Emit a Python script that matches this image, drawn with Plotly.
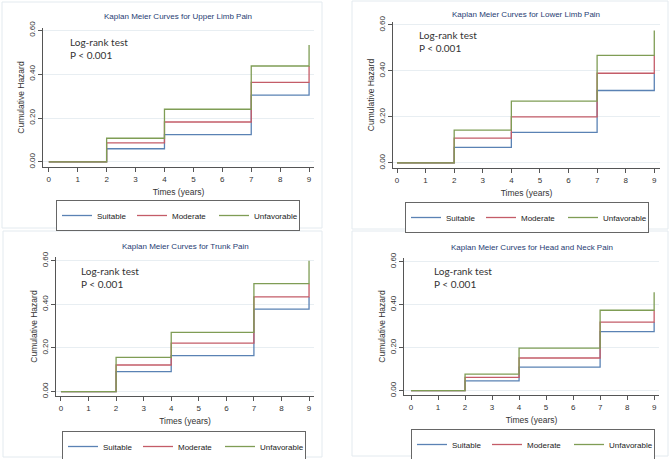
import plotly.graph_objects as go

W, H = 669, 459

times = [0, 2, 4, 7, 9]
groups = ["Suitable", "Moderate", "Unfavorable"]
colors = ["#5a82b4", "#c45c68", "#7f9d55"]

titles = [
    "Kaplan Meier Curves for Upper Limb Pain",
    "Kaplan Meier Curves for Lower Limb Pain",
    "Kaplan Meier Curves for Trunk Pain",
    "Kaplan Meier Curves for Head and Neck Pain",
]

# cumulative hazard at times 0, 2, 4, 7, 9 (step function)
upper_suitable = [0.0, 0.060, 0.124, 0.304, 0.362]
upper_moderate = [0.0, 0.087, 0.182, 0.362, 0.437]
upper_unfavorable = [0.0, 0.108, 0.240, 0.437, 0.533]

lower_suitable = [0.0, 0.068, 0.133, 0.315, 0.390]
lower_moderate = [0.0, 0.108, 0.200, 0.390, 0.468]
lower_unfavorable = [0.0, 0.143, 0.269, 0.468, 0.576]

trunk_suitable = [0.0, 0.092, 0.165, 0.378, 0.434]
trunk_moderate = [0.0, 0.122, 0.222, 0.434, 0.495]
trunk_unfavorable = [0.0, 0.157, 0.272, 0.495, 0.600]

head_suitable = [0.0, 0.046, 0.110, 0.275, 0.319]
head_moderate = [0.0, 0.062, 0.152, 0.319, 0.374]
head_unfavorable = [0.0, 0.077, 0.198, 0.374, 0.458]

panels_data = [
    [upper_suitable, upper_moderate, upper_unfavorable],
    [lower_suitable, lower_moderate, lower_unfavorable],
    [trunk_suitable, trunk_moderate, trunk_unfavorable],
    [head_suitable, head_moderate, head_unfavorable],
]

x_ticks = list(range(10))
y_ticks = [0.0, 0.2, 0.4, 0.6]
legend_widths = [30, 37, 40]

# pixel geometry of each panel (layout only)
geo = [
    dict(l=43, r=314, t=28, b=167, xr=[-0.2, 9.17], yr=[-0.023, 0.61],
         box=(2, 322, 2, 228), leg=(56, 200), ann=(68, 42), title=(178, 17)),
    dict(l=393, r=660, t=22, b=168, xr=[-0.14, 9.2], yr=[-0.022, 0.613],
         box=(352, 668, 1, 229), leg=(405, 202), ann=(417, 35), title=(526, 15)),
    dict(l=56, r=314, t=257, b=396, xr=[-0.18, 9.18], yr=[-0.02, 0.617],
         box=(3, 322, 231, 457), leg=(62, 431), ann=(79, 271), title=(185, 246)),
    dict(l=404, r=659, t=258, b=395, xr=[-0.26, 9.18], yr=[-0.02, 0.617],
         box=(352, 668, 231, 456), leg=(411, 429), ann=(432, 271), title=(532, 247)),
]


def fx(px):
    return px / W


def fy(py):
    return 1 - py / H


fig = go.Figure()
layout = dict(
    width=W, height=H,
    margin=dict(l=0, r=0, t=0, b=0, autoexpand=False),
    paper_bgcolor="white", plot_bgcolor="white",
    font=dict(family="Liberation Sans, Arial", color="#333333", size=8),
    showlegend=True,
    shapes=[], annotations=[],
)

for i, (g, data) in enumerate(zip(geo, panels_data)):
    k = "" if i == 0 else str(i + 1)
    xa, ya = "x" + k, "y" + k
    leg = "legend" + k
    for name, col, vals, lw in zip(groups, colors, data, legend_widths):
        fig.add_trace(go.Scatter(
            x=times, y=vals, mode="lines", name=name,
            line=dict(color=col, width=1.3, shape="hv"),
            xaxis=xa, yaxis=ya, legend=leg, legendwidth=lw,
        ))
    layout["xaxis" + k] = dict(
        domain=[fx(g["l"]), fx(g["r"])], range=g["xr"], anchor=ya,
        tickvals=x_ticks, ticks="outside", ticklen=4, tickcolor="#555555",
        showline=True, linecolor="#555555", linewidth=1, showgrid=False,
        zeroline=False, tickfont=dict(size=8),
        title=dict(text="Times (years)", font=dict(size=8.5), standoff=6),
    )
    layout["yaxis" + k] = dict(
        domain=[fy(g["b"]), fy(g["t"])], range=g["yr"], anchor=xa,
        tickvals=y_ticks, tickformat=".2f", tickangle=-90,
        ticks="outside", ticklen=4, tickcolor="#555555",
        showline=True, linecolor="#555555", linewidth=1,
        showgrid=True, gridcolor="#e8eef2", gridwidth=1, zeroline=False,
        tickfont=dict(size=8),
        title=dict(text="Cumulative Hazard", font=dict(size=8.5), standoff=1),
    )
    layout[leg] = dict(
        orientation="h", x=fx(g["leg"][0]), y=fy(g["leg"][1]),
        xanchor="left", yanchor="top", bordercolor="#666666", borderwidth=1,
        bgcolor="white", entrywidthmode="pixels",
        font=dict(size=8, color="#222222"), itemwidth=30,
        tracegroupgap=0,
    )
    b = g["box"]
    layout["shapes"].append(dict(
        type="rect", xref="paper", yref="paper",
        x0=fx(b[0]), x1=fx(b[1]), y0=fy(b[3]), y1=fy(b[2]),
        line=dict(color="#e3eaef", width=1), fillcolor="rgba(0,0,0,0)",
        layer="below",
    ))
    for j, line_text in enumerate(["Log-rank test", "P < 0.001"]):
        layout["annotations"].append(dict(
            text=line_text, xref="paper", yref="paper",
            x=fx(g["ann"][0]), y=fy(g["ann"][1] + 13 * j),
            xanchor="left", yanchor="middle",
            showarrow=False, align="left",
            font=dict(family="Lato, Open Sans", size=10, color="#333333"),
        ))
    layout["annotations"].append(dict(
        text=titles[i], xref="paper", yref="paper",
        x=fx(g["title"][0]), y=fy(g["title"][1]), xanchor="center", yanchor="middle",
        showarrow=False, font=dict(size=8, color="#1f3d73"),
    ))

fig.update_layout(**layout)
fig.write_html("out.html", post_script="document.body.style.margin='0';",
               config={"displayModeBar": False})
